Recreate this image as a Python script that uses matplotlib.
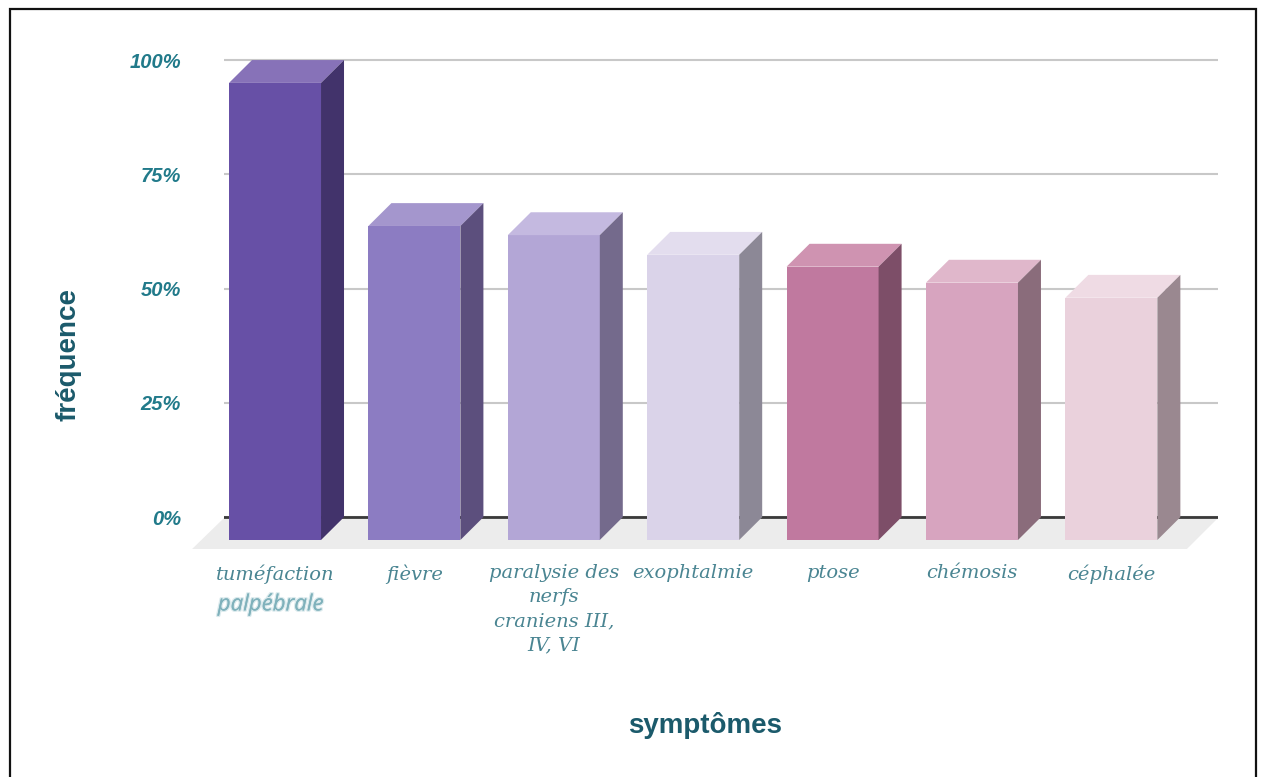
import matplotlib
matplotlib.use('Agg')
import matplotlib.pyplot as plt
import matplotlib.patheffects as pe
from matplotlib.patches import Rectangle, Polygon

symptomes = ['tuméfaction', 'fièvre', 'paralysie des\nnerfs\ncraniens III,\nIV, VI',
             'exophtalmie', 'ptose', 'chémosis', 'céphalée']
frequences = [100, 68.7, 66.7, 62.4, 59.8, 56.3, 53.0]
graduations = [0, 25, 50, 75, 100]

# couleurs des faces : avant, dessus, côté
c_face = ['#6750a6', '#8c7cc2', '#b3a6d6', '#dad3e9', '#c0799f', '#d7a4bf', '#ead1dc']
c_dessus = ['#8772b8', '#a496cd', '#c4b9e0', '#e3ddee', '#cf93b1', '#e0b7cb', '#efdbe4']
c_cote = ['#42336b', '#5c4f7d', '#746a8c', '#8c8896', '#7d4e68', '#8a6c7b', '#9a8890']

larg = 0.66      # largeur des barres
dx, dy = 0.165, 5.0   # profondeur (effet 3D)

fig = plt.figure(figsize=(12.62, 7.77), dpi=100)
ax = fig.add_axes([224/1262, 228/777, 994/1262, 499/777])
ax.set_xlim(-0.366, 6.765)
ax.set_ylim(-1.97, 107.2)
for s in ax.spines.values():
    s.set_visible(False)

# cadre autour de la figure
fig.patches.append(Rectangle((9.5/1262, -0.02), 1246.5/1262, 1.02 - 9.5/777, transform=fig.transFigure,
                             fill=False, edgecolor='#111111', linewidth=1.6))

# sol
ax.add_patch(Polygon([(-0.595, -1.97), (6.542, -1.97), (6.765, 4.81), (-0.366, 4.81)],
                     closed=True, facecolor='#ececec', edgecolor='none', zorder=1, clip_on=False))

# lignes de la grille sur le mur du fond
ax.set_yticks([g + dy for g in graduations])
ax.set_yticklabels([f'{g}%' for g in graduations])
ax.yaxis.grid(True, color='#c8c8c8', linewidth=1.5)
ax.set_axisbelow(True)
ax.axhline(dy, color='#3a3a3a', linewidth=2, zorder=1.5)
ax.tick_params(axis='y', length=0, pad=31, labelcolor='#217a8a')
for t in ax.get_yticklabels():
    t.set_fontfamily('Liberation Sans')
    t.set_fontweight('bold')
    t.set_fontstyle('italic')
    t.set_fontsize(14.5)
ax.set_xticks([])

for i, v in enumerate(frequences):
    g, d = i - larg / 2, i + larg / 2
    ax.add_patch(Rectangle((g, 0), larg, v, facecolor=c_face[i], edgecolor='none', zorder=3))
    ax.add_patch(Polygon([(g, v), (d, v), (d + dx, v + dy), (g + dx, v + dy)],
                         closed=True, facecolor=c_dessus[i], edgecolor='none', zorder=3))
    ax.add_patch(Polygon([(d, 0), (d + dx, dy), (d + dx, v + dy), (d, v)],
                         closed=True, facecolor=c_cote[i], edgecolor='none', zorder=3))
    ax.text(i, -5.3, symptomes[i], ha='center', va='top', fontsize=14, family='DejaVu Serif',
            style='italic', color='#4a8592', linespacing=1.42)

ax.text(-0.03, -11.9, 'palpébrale', ha='center', va='top', fontsize=16, family='Open Sans',
        style='italic', color='#7fb1bb',
        path_effects=[pe.withStroke(linewidth=2, foreground='#dbeaed'), pe.Normal()])

ax.set_ylabel('fréquence', fontsize=20, fontweight='bold', color='#1b5a6b', family='Liberation Sans')
ax.yaxis.set_label_coords(-0.143, 0.389)
ax.set_xlabel('symptômes', fontsize=20, fontweight='bold', color='#1b5a6b', family='Liberation Sans')
ax.xaxis.set_label_coords(0.484, -0.327)

plt.savefig('out.png', dpi=100)
